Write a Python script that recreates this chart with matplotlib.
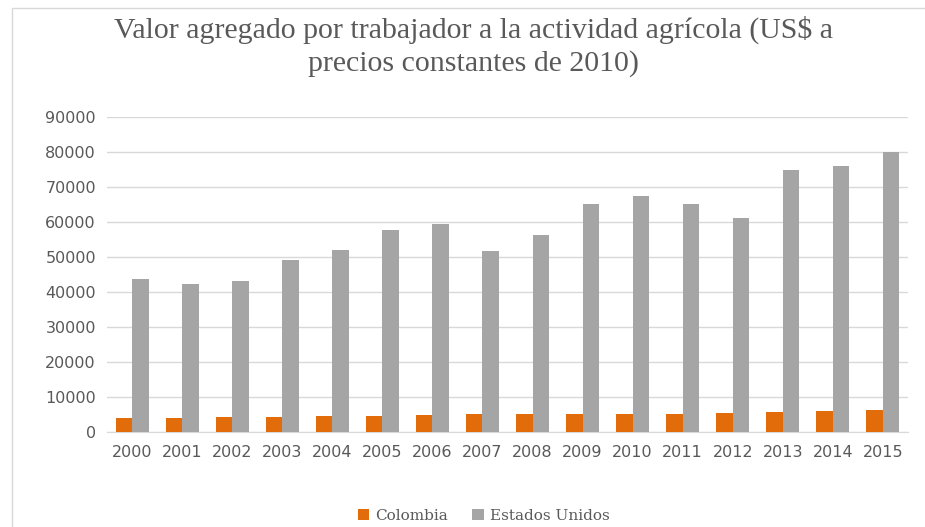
import numpy as np
import matplotlib.pyplot as plt
from matplotlib.patches import Rectangle

# Valores (US$ a precios constantes de 2010)
anios = ['2000', '2001', '2002', '2003', '2004', '2005', '2006', '2007',
         '2008', '2009', '2010', '2011', '2012', '2013', '2014', '2015']
colombia = [4000, 4100, 4300, 4500, 4650, 4750, 4950, 5100,
            5100, 5100, 5100, 5200, 5400, 5800, 6050, 6250]
estados_unidos = [43800, 42500, 43300, 49100, 52200, 57800, 59600, 51800,
                  56400, 65200, 67600, 65200, 61200, 75000, 76000, 80200]

naranja = '#E36C0A'
gris = '#A5A5A5'
texto = '#595959'

fig = plt.figure(figsize=(9.25, 5.27), dpi=100)
ax = fig.add_axes([0.1157, 0.1797, 0.8659, 0.5977])

x = np.arange(len(anios))
ancho = 0.33
ax.bar(x - ancho / 2, colombia, ancho, color=naranja, label='Colombia', zorder=3)
ax.bar(x + ancho / 2, estados_unidos, ancho, color=gris, label='Estados Unidos', zorder=3)

ax.set_xlim(-0.5, len(anios) - 0.5)
ax.set_ylim(0, 90000)
ax.set_yticks(range(0, 90001, 10000))
ax.set_xticks(x)
ax.set_xticklabels(anios)
ax.yaxis.grid(True, color='#D9D9D9', linewidth=1, zorder=0)
for lado in ['top', 'right', 'left']:
    ax.spines[lado].set_visible(False)
ax.spines['bottom'].set_color('#D9D9D9')
ax.tick_params(axis='both', length=0, labelsize=11.5, labelcolor=texto)
ax.tick_params(axis='y', pad=8)
ax.tick_params(axis='x', pad=9)

fig.text(0.512, 0.912, 'Valor agregado por trabajador a la actividad agrícola (US$ a\nprecios constantes de 2010)',
         ha='center', va='center', fontsize=21.5, color=texto, family='Liberation Serif',
         linespacing=1.3)

fig.legend(loc='center', bbox_to_anchor=(0.523, 0.021), ncol=2, frameon=False,
           prop={'family': 'DejaVu Serif', 'size': 11}, labelcolor=texto,
           handlelength=0.75, handleheight=0.75, handletextpad=0.4, columnspacing=1.6)

# marco del área del gráfico
fig.patches.append(Rectangle((0.013, -0.01), 0.99, 0.994, transform=fig.transFigure,
                             fill=False, edgecolor='#D9D9D9', linewidth=1))

fig.savefig('out.png', dpi=100)
